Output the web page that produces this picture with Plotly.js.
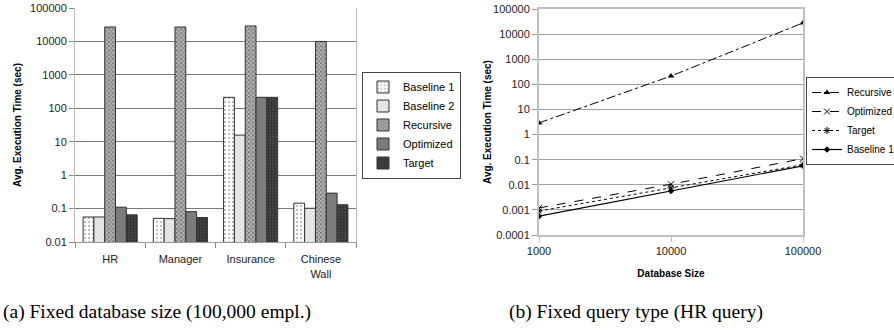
<!DOCTYPE html>
<html>
<head>
<meta charset="utf-8">
<script src="https://cdn.plot.ly/plotly-3.0.1.min.js"></script>
<style>html,body{margin:0;padding:0;background:#fff;}#chart{width:894px;height:330px;}</style>
</head>
<body>
<div id="chart"></div>
<script>
// Left chart: fixed database size (100,000 employees)
const queryTypes = ['HR', 'Manager', 'Insurance', 'Chinese Wall'];
const queryLabels = ['HR', 'Manager', 'Insurance', 'Chinese<br>Wall'];
const barBaseline1 = [0.056, 0.051, 213, 0.145];
const barBaseline2 = [0.056, 0.050, 15.8, 0.102];
const barRecursive = [27000, 27000, 29000, 10000];
const barOptimized = [0.11, 0.081, 213, 0.29];
const barTarget = [0.065, 0.054, 213, 0.13];

// Right chart: fixed query type (HR query)
const dbSizes = [1000, 10000, 100000];
const lineRecursive = [2.9, 214, 28000];
const lineOptimized = [0.0012, 0.0105, 0.11];
const lineTarget = [0.0009, 0.0075, 0.063];
const lineBaseline1 = [0.00056, 0.0056, 0.057];

const leftTickVals = [0.01, 0.1, 1, 10, 100, 1000, 10000, 100000];
const leftTickText = ['0.01', '0.1', '1', '10', '100', '1000', '10000', '100000'];
const rightTickVals = [0.0001, 0.001, 0.01, 0.1, 1, 10, 100, 1000, 10000, 100000];
const rightTickText = ['0.0001', '0.001', '0.01', '0.1', '1', '10', '100', '1000', '10000', '100000'];
const xTickVals = [1000, 10000, 100000];
const xTickText = ['1000', '10000', '100000'];

const barLine = {color: '#333', width: 1};
const traces = [
  {type: 'bar', name: 'Baseline 1', x: queryTypes, y: barBaseline1, xaxis: 'x', yaxis: 'y', legend: 'legend',
   marker: {color: '#ffffff', line: barLine, pattern: {shape: '.', fgcolor: '#aaa', bgcolor: '#fdfdfd', size: 4, solidity: 0.2}}},
  {type: 'bar', name: 'Baseline 2', x: queryTypes, y: barBaseline2, xaxis: 'x', yaxis: 'y', legend: 'legend',
   marker: {color: '#e4e4e4', line: barLine, pattern: {shape: 'x', fgcolor: '#c8c8c8', bgcolor: '#ececec', size: 3, solidity: 0.3}}},
  {type: 'bar', name: 'Recursive', x: queryTypes, y: barRecursive, xaxis: 'x', yaxis: 'y', legend: 'legend',
   marker: {color: '#999999', line: barLine, pattern: {shape: 'x', fgcolor: '#707070', bgcolor: '#b4b4b4', size: 3, solidity: 0.45}}},
  {type: 'bar', name: 'Optimized', x: queryTypes, y: barOptimized, xaxis: 'x', yaxis: 'y', legend: 'legend',
   marker: {color: '#7b7b7b', line: barLine}},
  {type: 'bar', name: 'Target', x: queryTypes, y: barTarget, xaxis: 'x', yaxis: 'y', legend: 'legend',
   marker: {color: '#404040', line: barLine, pattern: {shape: '.', fgcolor: '#2a2a2a', bgcolor: '#444', size: 3, solidity: 0.3}}},

  {type: 'scatter', mode: 'lines+markers', name: 'Recursive', x: dbSizes, y: lineRecursive, xaxis: 'x2', yaxis: 'y2', legend: 'legend2',
   line: {color: '#000', width: 1, dash: 'dashdot'}, marker: {symbol: 'triangle-up', size: 6, color: '#000'}},
  {type: 'scatter', mode: 'lines+markers', name: 'Optimized', x: dbSizes, y: lineOptimized, xaxis: 'x2', yaxis: 'y2', legend: 'legend2',
   line: {color: '#000', width: 1, dash: 'dash'}, marker: {symbol: 'x-thin-open', size: 6, color: '#000', line: {width: 1, color: '#000'}}},
  {type: 'scatter', mode: 'lines+markers', name: 'Target', x: dbSizes, y: lineTarget, xaxis: 'x2', yaxis: 'y2', legend: 'legend2',
   line: {color: '#000', width: 1, dash: 'dot'}, marker: {symbol: 'asterisk-open', size: 6, color: '#000', line: {width: 1, color: '#555'}}},
  {type: 'scatter', mode: 'lines+markers', name: 'Baseline 1', x: dbSizes, y: lineBaseline1, xaxis: 'x2', yaxis: 'y2', legend: 'legend2',
   line: {color: '#000', width: 1.2, dash: 'solid'}, marker: {symbol: 'diamond', size: 5, color: '#000'}}
];

const tickFont = {family: 'Liberation Sans, Arial, sans-serif', size: 11, color: '#222'};
const titleFont = {family: 'Liberation Sans, Arial, sans-serif', size: 10, color: '#000', weight: 'bold'};
const legendFont = {family: 'Liberation Sans, Arial, sans-serif', size: 11, color: '#000'};
const legendFont2 = {family: 'Liberation Sans, Arial, sans-serif', size: 10, color: '#000'};

const H = 330, W = 894;
const layout = {
  width: W, height: H,
  margin: {l: 0, r: 0, t: 0, b: 0, autoexpand: false},
  paper_bgcolor: '#fff', plot_bgcolor: '#fff',
  showlegend: true,
  barmode: 'group', bargap: 0.23, bargroupgap: 0,
  font: tickFont,
  xaxis: {
    domain: [75 / W, 356 / W], type: 'category', tickvals: queryTypes, ticktext: queryLabels,
    tickson: 'boundaries', ticks: 'outside', ticklen: 5, tickcolor: '#888', ticklabelstandoff: 7,
    showline: true, linecolor: '#999', linewidth: 1, mirror: false, showgrid: false,
    tickfont: tickFont, anchor: 'y'
  },
  yaxis: {
    domain: [(H - 242) / H, (H - 8) / H], type: 'log', range: [-2, 5],
    tickvals: leftTickVals, ticktext: leftTickText, ticks: 'outside', ticklen: 5, tickcolor: '#888',
    showline: true, linecolor: '#bbb', linewidth: 1, mirror: true, showgrid: true, gridcolor: '#7a7a7a', gridwidth: 1,
    zeroline: false, tickfont: tickFont, anchor: 'x',
    title: {text: 'Avg. Execution Time (sec)', font: titleFont, standoff: 6}
  },
  xaxis2: {
    domain: [539 / W, 803 / W], type: 'log', range: [3, 5],
    tickvals: xTickVals, ticktext: xTickText, ticks: 'outside', ticklen: 5, tickcolor: '#bbb',
    showline: true, linecolor: '#c0c0c0', linewidth: 2, mirror: true, showgrid: false, zeroline: false,
    tickfont: tickFont, anchor: 'y2',
    title: {text: 'Database Size', font: titleFont, standoff: 14}
  },
  yaxis2: {
    domain: [(H - 235) / H, (H - 9) / H], type: 'log', range: [-4, 5],
    tickvals: rightTickVals, ticktext: rightTickText, ticks: 'outside', ticklen: 5, tickcolor: '#999',
    showline: true, linecolor: '#c0c0c0', linewidth: 2, mirror: true, showgrid: true, gridcolor: '#a0a0a0', gridwidth: 1,
    zeroline: false, tickfont: tickFont, anchor: 'x2',
    title: {text: 'Avg. Execution Time (sec)', font: titleFont, standoff: 0}
  },
  legend: {
    x: 362 / W, y: (H - 125) / H, xanchor: 'left', yanchor: 'middle',
    bordercolor: '#444', borderwidth: 1, bgcolor: '#fff',
    font: legendFont, itemwidth: 30, tracegroupgap: 0, traceorder: 'normal'
  },
  legend2: {
    x: 806 / W, y: (H - 121) / H, xanchor: 'left', yanchor: 'middle',
    bordercolor: '#444', borderwidth: 1, bgcolor: '#fff',
    font: legendFont2, itemwidth: 30, tracegroupgap: 0, traceorder: 'normal'
  },
  annotations: [
    {text: '(a) Fixed database size (100,000 empl.)', xref: 'paper', yref: 'paper', x: 157 / W, y: (H - 312) / H,
     xanchor: 'center', yanchor: 'middle', showarrow: false,
     font: {family: 'Liberation Serif, DejaVu Serif, serif', size: 19.5, color: '#000'}},
    {text: '(b) Fixed query type (HR query)', xref: 'paper', yref: 'paper', x: 636 / W, y: (H - 312) / H,
     xanchor: 'center', yanchor: 'middle', showarrow: false,
     font: {family: 'Liberation Serif, DejaVu Serif, serif', size: 19.5, color: '#000'}}
  ]
};

Plotly.newPlot('chart', traces, layout, {displayModeBar: false, staticPlot: true});
</script>
</body>
</html>
